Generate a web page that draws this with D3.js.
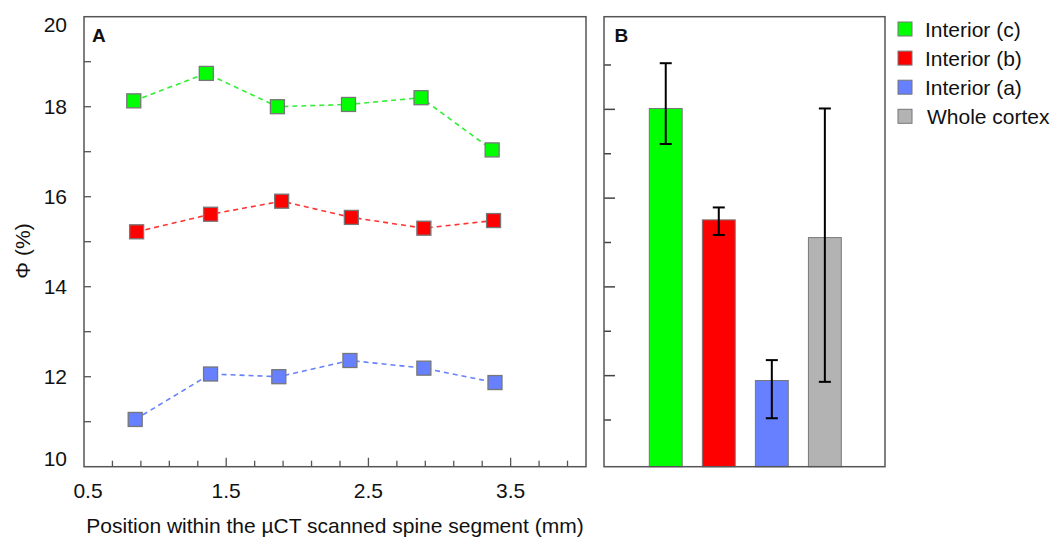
<!DOCTYPE html>
<html>
<head>
<meta charset="utf-8">
<script src="https://cdn.jsdelivr.net/npm/d3@7"></script>
<style>
  body { margin: 0; background: #fff; }
  text { font-family: "Liberation Sans", Arial, sans-serif; fill: #111; }
</style>
</head>
<body>
<div id="chart"></div>
<script>
// Global Variables :
var width = 1053,
    height = 539;

// panel A : porosity along the scanned segment
var seriesNames = ["Interior (c)", "Interior (b)", "Interior (a)"];
var seriesColors = ["#00ff00", "#ff0000", "#6680ff"];
var lineColors = ["#33ee33", "#ff3333", "#6680ff"];

var posC = [0.85, 1.36, 1.86, 2.36, 2.87, 3.37],
    phiC = [18.13, 18.74, 18.0, 18.05, 18.2, 17.04];
var posB = [0.87, 1.39, 1.89, 2.38, 2.89, 3.38],
    phiB = [15.22, 15.61, 15.9, 15.54, 15.3, 15.47];
var posA = [0.86, 1.39, 1.87, 2.37, 2.89, 3.39],
    phiA = [11.05, 12.06, 12.0, 12.36, 12.19, 11.87];

var xTickLabels = ["0.5", "1.5", "2.5", "3.5"];
var yTickLabels = ["10", "12", "14", "16", "18", "20"];

// panel B : mean values with ranges
var barNames = ["Interior (c)", "Interior (b)", "Interior (a)", "Whole cortex"];
var barColors = ["#00ff00", "#ff0000", "#6680ff", "#b3b3b3"];
var barMean = [18.02, 15.51, 11.89, 15.11],
    barLow = [17.22, 15.17, 11.04, 11.86],
    barHigh = [19.04, 15.79, 12.35, 18.02];

var svg = d3.select("#chart").append("svg")
  .attr("width", width)
  .attr("height", height);

// ---------- Panel A ----------
var frameA = {left: 84, right: 586, top: 16.7, bottom: 466.7};

var xA = d3.scaleLinear().domain([0.5, 4.03]).range([frameA.left, frameA.right]);
var yA = d3.scaleLinear().domain([10, 20]).range([frameA.bottom, frameA.top]);

var gA = svg.append("g");

gA.append("rect")
  .attr("x", frameA.left).attr("y", frameA.top)
  .attr("width", frameA.right - frameA.left)
  .attr("height", frameA.bottom - frameA.top)
  .attr("fill", "none").attr("stroke", "#555").attr("stroke-width", 1.5);

// y ticks (inside)
gA.selectAll(".ytick")
  .data(d3.range(11, 20))
  .enter().append("line")
  .attr("x1", frameA.left).attr("x2", frameA.left + 7)
  .attr("y1", function(d) { return yA(d); })
  .attr("y2", function(d) { return yA(d); })
  .attr("stroke", "#555").attr("stroke-width", 1.3);

gA.selectAll(".ylab")
  .data(yTickLabels)
  .enter().append("text")
  .attr("x", 67)
  .attr("y", function(d) {
    var v = +d, y = yA(v);
    if (v == 20) y += 8;
    if (v == 10) y -= 8;
    return y + 7.5;
  })
  .attr("text-anchor", "end")
  .style("font-size", "21px")
  .text(function(d) { return d; });

// x ticks (inside)
var xTicks = d3.range(0, 18).map(function(i) { return +(0.7 + i * 0.2).toFixed(1); })
  .filter(function(d) { return d < 4.0; });
gA.selectAll(".xtick")
  .data(xTicks)
  .enter().append("line")
  .attr("x1", function(d) { return xA(d); })
  .attr("x2", function(d) { return xA(d); })
  .attr("y1", frameA.bottom)
  .attr("y2", function(d) { return xTickLabels.indexOf(d.toFixed(1)) != -1 ? frameA.bottom - 9 : frameA.bottom - 6; })
  .attr("stroke", "#555").attr("stroke-width", 1.3);

gA.selectAll(".xlab")
  .data(xTickLabels)
  .enter().append("text")
  .attr("x", function(d) { return +d == 0.5 ? xA(+d) + 4 : xA(+d); })
  .attr("y", 498)
  .attr("text-anchor", "middle")
  .style("font-size", "21px")
  .text(function(d) { return d; });

gA.append("text")
  .attr("x", (frameA.left + frameA.right) / 2)
  .attr("y", 533)
  .attr("text-anchor", "middle")
  .style("font-size", "21px")
  .text("Position within the µCT scanned spine segment (mm)");

gA.append("text")
  .attr("transform", "translate(30,251) rotate(-90)")
  .attr("text-anchor", "middle")
  .style("font-size", "21px")
  .text("Φ (%)");

gA.append("text")
  .attr("x", 92).attr("y", 41.5)
  .style("font-size", "19px").style("font-weight", "bold")
  .text("A");

var lineData = [
  d3.zip(posC, phiC),
  d3.zip(posB, phiB),
  d3.zip(posA, phiA)
];

var line = d3.line()
  .x(function(d) { return xA(d[0]); })
  .y(function(d) { return yA(d[1]); });

var msize = 14;
lineData.forEach(function(pts, i) {
  gA.append("path")
    .attr("d", line(pts))
    .attr("fill", "none")
    .attr("stroke", lineColors[i])
    .attr("stroke-width", 1.6)
    .attr("stroke-dasharray", "5,4");

  gA.selectAll(".m" + i)
    .data(pts)
    .enter().append("rect")
    .attr("x", function(d) { return xA(d[0]) - msize / 2; })
    .attr("y", function(d) { return yA(d[1]) - msize / 2; })
    .attr("width", msize).attr("height", msize)
    .attr("fill", seriesColors[i])
    .attr("stroke", "#777").attr("stroke-width", 1.3);
});

// ---------- Panel B ----------
var frameB = {left: 604, right: 885, top: 16.7, bottom: 466.7};

var yB = d3.scaleLinear().domain([10, 20]).range([464.4, 20.6]);
var xB = d3.scaleBand().domain(barNames).range([649.3, 841.3]).paddingInner(0.38);

var gB = svg.append("g");

gB.selectAll(".ytickB")
  .data(d3.range(11, 20))
  .enter().append("line")
  .attr("x1", frameB.left)
  .attr("x2", function(d) { return d % 2 == 0 ? frameB.left + 11 : frameB.left + 7; })
  .attr("y1", function(d) { return yB(d); })
  .attr("y2", function(d) { return yB(d); })
  .attr("stroke", "#444").attr("stroke-width", 1.5);

gB.selectAll(".bar")
  .data(barNames)
  .enter().append("rect")
  .attr("x", function(d) { return xB(d); })
  .attr("y", function(d, i) { return yB(barMean[i]); })
  .attr("width", xB.bandwidth())
  .attr("height", function(d, i) { return frameB.bottom - yB(barMean[i]); })
  .attr("fill", function(d, i) { return barColors[i]; })
  .attr("stroke", "#777").attr("stroke-width", 1);

var errs = gB.selectAll(".err")
  .data(barNames)
  .enter().append("g")
  .attr("stroke", "#000").attr("stroke-width", 2);

errs.append("line")
  .attr("x1", function(d) { return xB(d) + xB.bandwidth() / 2; })
  .attr("x2", function(d) { return xB(d) + xB.bandwidth() / 2; })
  .attr("y1", function(d, i) { return yB(barLow[i]); })
  .attr("y2", function(d, i) { return yB(barHigh[i]); });
errs.append("line")
  .attr("x1", function(d) { return xB(d) + xB.bandwidth() / 2 - 6; })
  .attr("x2", function(d) { return xB(d) + xB.bandwidth() / 2 + 6; })
  .attr("y1", function(d, i) { return yB(barLow[i]); })
  .attr("y2", function(d, i) { return yB(barLow[i]); });
errs.append("line")
  .attr("x1", function(d) { return xB(d) + xB.bandwidth() / 2 - 6; })
  .attr("x2", function(d) { return xB(d) + xB.bandwidth() / 2 + 6; })
  .attr("y1", function(d, i) { return yB(barHigh[i]); })
  .attr("y2", function(d, i) { return yB(barHigh[i]); });

gB.append("rect")
  .attr("x", frameB.left).attr("y", frameB.top)
  .attr("width", frameB.right - frameB.left)
  .attr("height", frameB.bottom - frameB.top)
  .attr("fill", "none").attr("stroke", "#555").attr("stroke-width", 1.5);

gB.append("text")
  .attr("x", 614.5).attr("y", 41.5)
  .style("font-size", "19px").style("font-weight", "bold")
  .text("B");

// Legend :
var legend = svg.append("g").attr("transform", "translate(898,29)");
var legendItems = legend.selectAll(".leg")
  .data(barNames)
  .enter().append("g")
  .attr("transform", function(d, i) { return "translate(0," + (i * 29.1) + ")"; });

legendItems.append("rect")
  .attr("x", 0).attr("y", -7)
  .attr("width", 14).attr("height", 14)
  .attr("fill", function(d, i) { return barColors[i]; })
  .attr("stroke", "#777").attr("stroke-width", 1);

legendItems.append("text")
  .attr("x", function(d, i) { return i == 3 ? 29 : 27; })
  .attr("y", 8)
  .style("font-size", "21px")
  .text(function(d) { return d; });
</script>
</body>
</html>
